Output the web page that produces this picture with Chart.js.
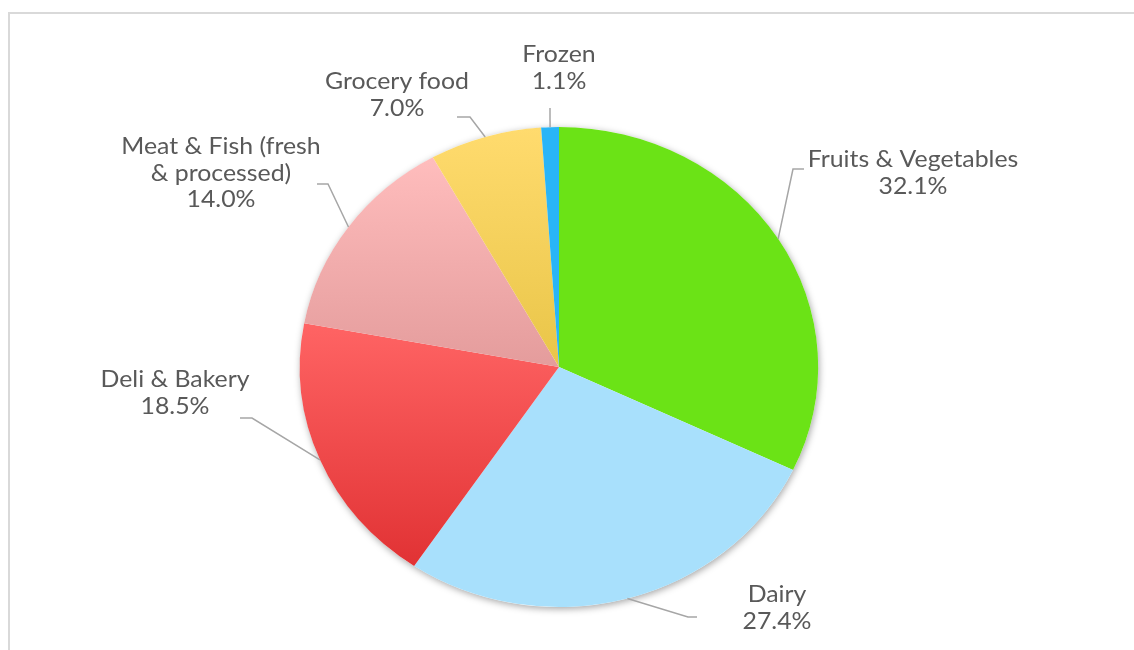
<!DOCTYPE html>
<html>
<head>
<meta charset="utf-8">
<script src="https://cdn.jsdelivr.net/npm/chart.js@4"></script>
<style>
  body { margin: 0; background: #fff; overflow: hidden; }
  #wrap { position: relative; width: 1134px; height: 650px; }
  #frame { position: absolute; left: 8px; top: 12px; width: 1140px; height: 700px; border: 2px solid #d9d9d9; }
  #pie { position: absolute; left: 0; top: 0; }
</style>
</head>
<body>
<div id="wrap">
  <div id="frame"></div>
  <canvas id="pie" width="1134" height="650"></canvas>
</div>
<script>
var categories = ["Fruits & Vegetables", "Dairy", "Deli & Bakery", "Meat & Fish (fresh\n& processed)", "Grocery food", "Frozen"];
var shares = [32.1, 27.4, 18.5, 14.0, 7.0, 1.1];
var shareLabels = ["32.1%", "27.4%", "18.5%", "14.0%", "7.0%", "1.1%"];

// top / bottom colour of each slice (same value = flat fill)
var sliceTop = ["#6be316", "#a8e0fc", "#ff6464", "#ffbdbd", "#ffdb6e", "#29b5f7"];
var sliceBottom = ["#6be316", "#a8e0fc", "#e13234", "#e49c9c", "#e9c548", "#29b5f7"];

// label block centre + leader elbow/end, as offsets from the pie centre
var labelAt = [[354, -207], [218, 228], [-384, 13], [-338, -220], [-162, -285], [0, -312]];
var elbowAt = [[234, -198], [129, 250], [-307, 51], [-231, -183], [-89, -250], [-9, -259]];
var endAt = [[245, -198], [138, 250], [-319, 51], [-242, -183], [-102, -250], [-9, -259]];

// the whole drawing is widened a little horizontally
var xStretch = 1.08;
var textColor = "#595959";
var leaderColor = "#a6a6a6";

function sliceExtent(arc) {
    var s = arc.startAngle, e = arc.endAngle, r = arc.outerRadius;
    var ys = [arc.y, arc.y + r * Math.sin(s), arc.y + r * Math.sin(e)];
    var k;
    for (k = -1; k <= 2; k++) {
        var up = -Math.PI / 2 + k * 2 * Math.PI;
        var down = Math.PI / 2 + k * 2 * Math.PI;
        if (up >= s && up <= e) ys.push(arc.y - r);
        if (down >= s && down <= e) ys.push(arc.y + r);
    }
    return [Math.min.apply(null, ys), Math.max.apply(null, ys)];
}

var ovalPie = {
    id: "ovalPie",
    beforeDatasetsDraw: function (chart) {
        var ctx = chart.ctx;
        var arcs = chart.getDatasetMeta(0).data;
        var cx = arcs[0].x, cy = arcs[0].y, r = arcs[0].outerRadius;
        ctx.save();
        ctx.translate(cx, cy);
        ctx.scale(xStretch, 1);
        ctx.translate(-cx, -cy);

        // soft shadow under the whole pie
        ctx.save();
        ctx.shadowColor = "rgba(0,0,0,0.35)";
        ctx.shadowBlur = 7;
        ctx.shadowOffsetX = 1;
        ctx.shadowOffsetY = 2;
        ctx.beginPath();
        ctx.arc(cx, cy, r, 0, Math.PI * 2);
        ctx.fillStyle = "#ffffff";
        ctx.fill();
        ctx.restore();

        arcs.forEach(function (arc, i) {
            var ext = sliceExtent(arc);
            var g = ctx.createLinearGradient(0, ext[0], 0, ext[1]);
            g.addColorStop(0, sliceTop[i]);
            g.addColorStop(1, sliceBottom[i]);
            arc.options.backgroundColor = g;
            arc.options.borderColor = g;
        });
    },
    afterDatasetsDraw: function (chart) {
        chart.ctx.restore();
    },
    afterDraw: function (chart) {
        var ctx = chart.ctx;
        var arcs = chart.getDatasetMeta(0).data;
        var cx = arcs[0].x, cy = arcs[0].y;
        ctx.save();
        ctx.font = "23px Lato";
        ctx.fillStyle = textColor;
        ctx.textAlign = "center";
        ctx.textBaseline = "middle";
        ctx.strokeStyle = leaderColor;
        ctx.lineWidth = 1.5;
        arcs.forEach(function (arc, i) {
            var mid = (arc.startAngle + arc.endAngle) / 2;
            var ex = cx + arc.outerRadius * xStretch * Math.cos(mid);
            var ey = cy + arc.outerRadius * Math.sin(mid);
            ctx.beginPath();
            ctx.moveTo(ex, ey);
            ctx.lineTo(cx + elbowAt[i][0], cy + elbowAt[i][1]);
            ctx.lineTo(cx + endAt[i][0], cy + endAt[i][1]);
            ctx.stroke();

            var lines = categories[i].split("\n").concat([shareLabels[i]]);
            var lx = cx + labelAt[i][0], ly = cy + labelAt[i][1];
            lines.forEach(function (t, j) {
                ctx.save();
                ctx.translate(lx, ly + j * 26.5);
                ctx.scale(xStretch, 1);
                ctx.fillText(t, 0, 0);
                ctx.restore();
            });
        });
        ctx.restore();
    }
};

new Chart("pie", {
    type: "pie",
    data: {
        labels: categories,
        datasets: [
            {
                data: shares,
                backgroundColor: sliceTop,
                borderWidth: 0,
            },
        ],
    },
    options: {
        responsive: false,
        animation: false,
        layout: {
            padding: { top: 127, bottom: 43, left: 300, right: 316 },
        },
        plugins: {
            legend: { display: false },
            tooltip: { enabled: false },
        },
    },
    plugins: [ovalPie],
});
</script>
</body>
</html>
